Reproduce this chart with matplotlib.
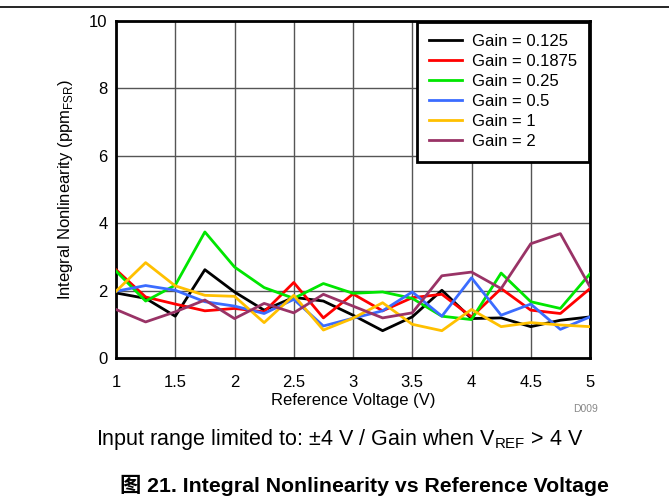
import matplotlib
matplotlib.use("Agg")
import matplotlib.pyplot as plt
from matplotlib.lines import Line2D

plt.rcParams['font.family'] = ['Liberation Sans', 'Noto Sans CJK SC', 'DejaVu Sans']

vref = [1.0, 1.25, 1.5, 1.75, 2.0, 2.25, 2.5, 2.75, 3.0, 3.25, 3.5, 3.75, 4.0, 4.25, 4.5, 4.75, 5.0]

gain_0125 = [1.93, 1.77, 1.24, 2.62, 1.96, 1.42, 1.80, 1.69, 1.27, 0.81, 1.22, 2.01, 1.17, 1.19, 0.93, 1.12, 1.22]
gain_01875 = [2.62, 1.81, 1.60, 1.40, 1.47, 1.37, 2.24, 1.19, 1.90, 1.40, 1.79, 1.89, 1.22, 2.06, 1.42, 1.32, 2.06]
gain_025 = [2.58, 1.69, 2.16, 3.74, 2.70, 2.09, 1.77, 2.21, 1.92, 1.96, 1.77, 1.24, 1.14, 2.52, 1.67, 1.47, 2.50]
gain_05 = [1.98, 2.15, 2.01, 1.67, 1.54, 1.32, 1.74, 0.95, 1.18, 1.40, 1.96, 1.24, 2.38, 1.27, 1.60, 0.85, 1.22]
gain_1 = [1.98, 2.83, 2.14, 1.86, 1.83, 1.05, 1.86, 0.83, 1.18, 1.64, 1.00, 0.81, 1.44, 0.93, 1.05, 0.98, 0.93]
gain_2 = [1.44, 1.07, 1.37, 1.72, 1.17, 1.62, 1.34, 1.89, 1.54, 1.19, 1.34, 2.44, 2.55, 2.06, 3.39, 3.69, 2.11]

series = [
    ("Gain = 0.125", gain_0125, "#000000"),
    ("Gain = 0.1875", gain_01875, "#ff0000"),
    ("Gain = 0.25", gain_025, "#00e600"),
    ("Gain = 0.5", gain_05, "#3b6cff"),
    ("Gain = 1", gain_1, "#ffc000"),
    ("Gain = 2", gain_2, "#993366"),
]

xticks = [1, 1.5, 2, 2.5, 3, 3.5, 4, 4.5, 5]
xticklabels = ["1", "1.5", "2", "2.5", "3", "3.5", "4", "4.5", "5"]
yticks = [0, 2, 4, 6, 8, 10]

W, H = 669, 497
fig = plt.figure(figsize=(W / 100, H / 100), dpi=100)
left, right, top, bottom = 116, 590, 21, 358
ax = fig.add_axes([left / W, 1 - bottom / H, (right - left) / W, (bottom - top) / H])

for label, vals, color in series:
    ax.plot(vref, vals, color=color, lw=2.0, label=label, zorder=3)

ax.set_xlim(1, 5)
ax.set_ylim(0, 10)
ax.set_xticks(xticks)
ax.set_xticklabels(xticklabels)
ax.set_yticks(yticks)
ax.grid(True, color="#555555", lw=1.0)
ax.set_axisbelow(True)
for s in ax.spines.values():
    s.set_linewidth(2.0)
    s.set_color("black")
ax.tick_params(axis="x", length=0, labelsize=12, pad=12, colors="black")
ax.tick_params(axis="y", length=0, labelsize=12, pad=6, colors="black")
ax.set_xlabel("Reference Voltage (V)", fontsize=12, labelpad=2.5)
ax.set_ylabel("Integral Nonlinearity (ppm$_{\\mathregular{FSR}}$)", fontsize=12, labelpad=10)

leg = ax.legend(loc="upper right", fontsize=12, frameon=True, fancybox=False,
                edgecolor="black", framealpha=1, borderaxespad=0.05, handlelength=2.0,
                handletextpad=0.55, labelspacing=0.30, borderpad=0.75,
                bbox_to_anchor=(1.0, 1.0))
leg.get_frame().set_linewidth(2.0)
leg.set_zorder(5)

fig.add_artist(Line2D([0, 1], [1 - 7 / H, 1 - 7 / H], color="black", lw=1.2, transform=fig.transFigure))

fig.text(598 / W, 1 - 409 / H, "D009", fontsize=7.5, color="#888888", ha="right", va="center")
fig.text(340 / W, 1 - 439 / H, "Input range limited to: \u00b14 V / Gain when V$_{\\mathregular{REF}}$ > 4 V",
         fontsize=15.5, ha="center", va="center")
fig.text(364 / W, 1 - 485 / H, "图 21. Integral Nonlinearity vs Reference Voltage",
         fontsize=15.3, fontweight="bold", ha="center", va="center")

fig.savefig("out.png", dpi=100)
